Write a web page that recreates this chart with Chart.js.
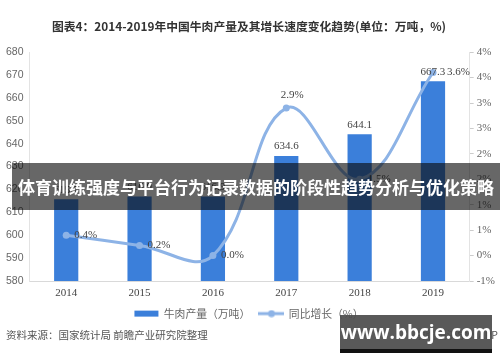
<!DOCTYPE html>
<html>
<head>
<meta charset="utf-8">
<script src="https://cdn.jsdelivr.net/npm/chart.js@4/dist/chart.umd.min.js"></script>
<style>
  html, body { margin: 0; padding: 0; background: #fff; }
  #wrap { position: relative; width: 500px; height: 362px; overflow: hidden; }
  #myChart { position: absolute; left: 0; top: 0; }
  .source { position: absolute; left: 6px; top: 327px; font: 10.5px "Noto Sans CJK SC", sans-serif; color: #555; }
  .app { position: absolute; right: 2px; top: 327px; font: 10.5px "Noto Sans CJK SC", sans-serif; color: #555; }
  .banner { position: absolute; left: 12px; top: 163px; width: 488px; height: 47px; background: rgba(10, 10, 10, 0.62);
    color: #fff; font: bold 17px "Noto Sans CJK SC", sans-serif; line-height: 47px; text-align: center; white-space: nowrap; }
  .mark { position: absolute; left: 340px; top: 315px; width: 152px; height: 34px; background: rgba(75, 75, 75, 0.92);
    border-bottom: 4px solid #111; color: #fff; font: bold 19px "Open Sans", "DejaVu Sans", sans-serif; line-height: 34px; text-align: center; }
</style>
</head>
<body>
<div id="wrap">
  <canvas id="myChart" width="500" height="362"></canvas>
  <div class="source">资料来源：国家统计局 前瞻产业研究院整理</div>
  <div class="app">前瞻经济学人APP</div>
  <div class="banner">体育训练强度与平台行为记录数据的阶段性趋势分析与优化策略</div>
  <div class="mark">www.bbcje.com</div>
</div>
<script>
/* Chart data */
const years = ['2014', '2015', '2016', '2017', '2018', '2019'];
const beefOutput = [615.7, 616.9, 616.9, 634.6, 644.1, 667.3];   // 万吨
const growthRate = [0.4, 0.2, 0.0, 2.9, 1.5, 3.6];                // %
const leftTicks = [580, 680, 10];
const rightTicks = [-0.5, 4, 0.5];

const barColor = '#3b7fda';
const lineColor = '#8db3e6';

// Little pictures for the legend
function makeIcon(type) {
    const c = document.createElement('canvas');
    c.width = 26;
    c.height = 8;
    const g = c.getContext('2d');
    if (type === 'bar') {
        g.fillStyle = barColor;
        g.fillRect(1, 1, 24, 6);
    } else {
        g.strokeStyle = lineColor;
        g.lineWidth = 3;
        g.beginPath();
        g.moveTo(0, 4);
        g.lineTo(26, 4);
        g.stroke();
        g.fillStyle = lineColor;
        g.beginPath();
        g.arc(13, 4, 3.5, 0, Math.PI * 2);
        g.fill();
    }
    return c;
}

// Value labels over bars and next to points
const valueLabels = {
    id: 'valueLabels',
    afterDatasetsDraw(chart) {
        const ctx = chart.ctx;
        ctx.save();
        ctx.font = '11px "Liberation Serif", serif';
        ctx.fillStyle = '#444';
        chart.getDatasetMeta(0).data.forEach((bar, i) => {
            ctx.textAlign = 'center';
            ctx.textBaseline = 'bottom';
            ctx.fillText(beefOutput[i].toFixed(1), bar.x, bar.y - 4);
        });
        chart.getDatasetMeta(1).data.forEach((pt, i) => {
            const txt = growthRate[i].toFixed(1) + '%';
            if (i === 3) {
                ctx.textAlign = 'center';
                ctx.textBaseline = 'bottom';
                ctx.fillText(txt, pt.x + 6, pt.y - 7);
            } else {
                ctx.textAlign = 'left';
                ctx.textBaseline = 'bottom';
                ctx.fillText(txt, pt.x + (i === 5 ? 14 : 8), pt.y + 5);
            }
        });
        ctx.restore();
    }
};

const ctx = document.getElementById('myChart').getContext('2d');
const chart = new Chart(ctx, {
    data: {
        labels: years,
        datasets: [
            {
                type: 'bar',
                label: '牛肉产量（万吨）',
                data: beefOutput,
                backgroundColor: barColor,
                yAxisID: 'y',
                barPercentage: 0.66,
                categoryPercentage: 0.5,
                order: 2
            },
            {
                type: 'line',
                label: '同比增长（%）',
                data: growthRate,
                borderColor: lineColor,
                backgroundColor: lineColor,
                borderWidth: 3,
                pointRadius: 3.5,
                pointBorderWidth: 0,
                tension: 0.4,
                yAxisID: 'y1',
                order: 1
            }
        ]
    },
    options: {
        responsive: false,
        animation: false,
        layout: { padding: { left: 0, right: 2, bottom: 33 } },
        plugins: {
            title: {
                display: true,
                text: '图表4：2014-2019年中国牛肉产量及其增长速度变化趋势(单位：万吨，%)',
                color: '#333',
                font: { family: '"Noto Sans CJK SC", sans-serif', size: 11.8, weight: 'bold' },
                padding: { top: 19, bottom: 19 }
            },
            legend: {
                position: 'bottom',
                labels: {
                    usePointStyle: true,
                    pointStyleWidth: 24,
                    color: '#666',
                    font: { family: '"Noto Sans CJK SC", sans-serif', size: 10.8 },
                    padding: 2,
                    generateLabels: (c) => c.data.datasets.map((ds, i) => ({
                        text: ds.label + (i === 0 ? '   ' : ''),
                        pointStyle: makeIcon(i === 0 ? 'bar' : 'line'),
                        fillStyle: ds.backgroundColor,
                        strokeStyle: ds.borderColor,
                        lineWidth: 0,
                        fontColor: '#666',
                        datasetIndex: i
                    }))
                }
            },
            tooltip: { enabled: false }
        },
        scales: {
            x: {
                grid: { display: false, drawTicks: false },
                border: { color: '#d9d9d9' },
                ticks: { color: '#444', font: { family: '"Liberation Serif", serif', size: 11 }, padding: 6 }
            },
            y: {
                position: 'left',
                min: leftTicks[0],
                max: leftTicks[1],
                ticks: { stepSize: leftTicks[2], color: '#666', font: { family: '"Liberation Sans", sans-serif', size: 10.5 }, padding: 6 },
                grid: { drawOnChartArea: false, drawTicks: false },
                border: { color: '#e3e3e3' }
            },
            y1: {
                position: 'right',
                min: rightTicks[0],
                max: rightTicks[1],
                ticks: {
                    stepSize: rightTicks[2],
                    color: '#666',
                    font: { family: '"Liberation Serif", serif', size: 11 },
                    padding: 3,
                    callback: (v) => v.toFixed(0) + '%'
                },
                grid: { drawOnChartArea: false, tickLength: 4, color: '#ccc' },
                border: { color: '#e3e3e3' }
            }
        }
    },
    plugins: [valueLabels]
});
</script>
</body>
</html>
